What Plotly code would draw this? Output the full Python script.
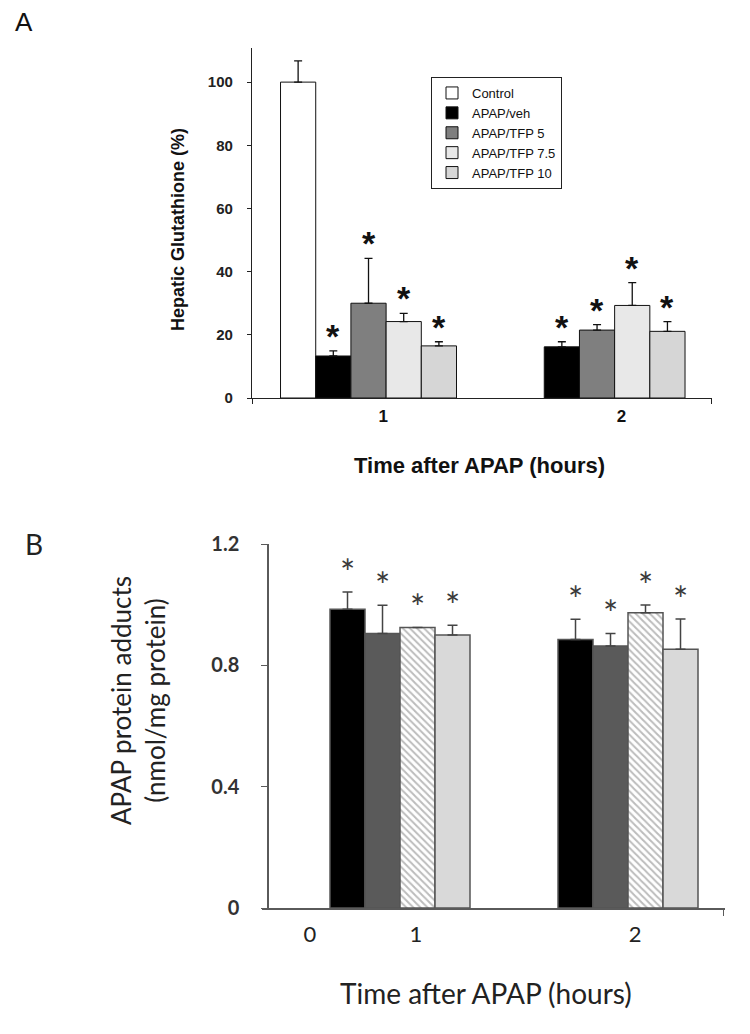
import plotly.graph_objects as go

# ---------------- data ----------------
time_points = [1, 2]

series_A = ["Control", "APAP/veh", "APAP/TFP 5", "APAP/TFP 7.5", "APAP/TFP 10"]
control_A = [100.0]
control_A_err = [6.7]
veh_A = [13.3, 16.2]
veh_A_err = [1.6, 1.6]
tfp5_A = [30.0, 21.5]
tfp5_A_err = [14.2, 1.7]
tfp75_A = [24.2, 29.3]
tfp75_A_err = [2.6, 7.2]
tfp10_A = [16.5, 21.1]
tfp10_A_err = [1.3, 3.1]

series_B = ["APAP/veh", "APAP/TFP 5", "APAP/TFP 7.5", "APAP/TFP 10"]
veh_B = [0.985, 0.885]
veh_B_err = [0.057, 0.067]
tfp5_B = [0.905, 0.864]
tfp5_B_err = [0.093, 0.041]
tfp75_B = [0.925, 0.973]
tfp75_B_err = [0.0, 0.026]
tfp10_B = [0.900, 0.853]
tfp10_B_err = [0.032, 0.100]

yticks_A = [0, 20, 40, 60, 80, 100]
yticks_B = [0, 0.4, 0.8, 1.2]
yticklabels_B = ["0", "0.4", "0.8", "1.2"]
xticklabels_A = ["1", "2"]
xticklabels_B = ["0", "1", "2"]

# ---------------- styling ----------------
W, H = 750, 1034
ARIAL = "Liberation Sans, Arial, sans-serif"
CAL = "Lato, Calibri, sans-serif"

wA = 0.154
wB = 0.1535
rangeA = [0.4902, 2.503]
rangeB = [0.3947, 2.4254]

fig = go.Figure()

# ---- panel A ----
A_sets = [
    ([1], control_A, control_A_err, "#ffffff", False),
    (time_points, veh_A, veh_A_err, "#000000", True),
    (time_points, tfp5_A, tfp5_A_err, "#7f7f7f", True),
    (time_points, tfp75_A, tfp75_A_err, "#e8e8e8", True),
    (time_points, tfp10_A, tfp10_A_err, "#d6d6d6", True),
]
annotations = []
for i, (xs, ys, es, col, star) in enumerate(A_sets):
    off = (i - 2.5) * wA
    fig.add_trace(go.Bar(
        x=xs, y=ys, name=series_A[i], width=wA, offset=off,
        xaxis="x", yaxis="y",
        marker=dict(color=col, line=dict(color="#111111", width=1)),
        error_y=dict(type="data", symmetric=False, array=es,
                     arrayminus=[0] * len(es), color="#111111",
                     thickness=1.3, width=4),
        showlegend=True,
    ))
    if star:
        for xv, yv, ev in zip(xs, ys, es):
            annotations.append(dict(
                x=xv + off + wA / 2, y=yv + ev, xref="x", yref="y",
                text="*", showarrow=False, xanchor="center", yanchor="bottom",
                yshift=-6,
                font=dict(family=ARIAL, size=34, color="#111111", weight="bold"),
            ))

# ---- panel B ----
B_sets = [
    (veh_B, veh_B_err, "#000000", None),
    (tfp5_B, tfp5_B_err, "#5a5a5a", None),
    (tfp75_B, tfp75_B_err, "#ffffff", "\\"),
    (tfp10_B, tfp10_B_err, "#d9d9d9", None),
]
for j, (ys, es, col, pat) in enumerate(B_sets):
    off = (j - 2) * wB
    marker = dict(color=col, line=dict(color="#555555", width=1.5))
    if pat:
        marker["pattern"] = dict(shape=pat, fgcolor="#7a7a7a", bgcolor="#ffffff",
                                 size=5, solidity=0.4)
    fig.add_trace(go.Bar(
        x=time_points, y=ys, name=series_B[j], width=wB, offset=off,
        xaxis="x2", yaxis="y2", marker=marker,
        error_y=dict(type="data", symmetric=False, array=es,
                     arrayminus=[0] * len(es), color="#444444",
                     thickness=1.5, width=5),
        showlegend=False,
    ))
    for xv, yv, ev in zip(time_points, ys, es):
        annotations.append(dict(
            x=xv + off + wB / 2, y=yv + ev, xref="x2", yref="y2",
            text="*", showarrow=False, xanchor="center", yanchor="bottom",
            yshift=-4,
            font=dict(family=CAL, size=36, color="#3a3a3a"),
        ))


def px(xp, yp):
    return xp / W, 1 - yp / H


def label(txt, xp, yp, fnt, angle=0):
    x, y = px(xp, yp)
    annotations.append(dict(x=x, y=y, xref="paper", yref="paper", text=txt,
                            showarrow=False, xanchor="center", yanchor="middle",
                            textangle=angle, font=fnt))


label("A", 24, 22, dict(family=ARIAL, size=26, color="#111111"))
label("B", 34, 544, dict(family=CAL, size=28, color="#222222"))
label("Time after APAP (hours)", 479, 466,
      dict(family=ARIAL, size=22, color="#111111", weight="bold"))
label("Hepatic Glutathione (%)", 178, 230,
      dict(family=ARIAL, size=18, color="#111111", weight="bold"), angle=-90)
label("APAP protein adducts<br>(nmol/mg protein)", 138, 701,
      dict(family=CAL, size=26, color="#222222"), angle=-90)
label("Time after APAP (hours)", 486, 993,
      dict(family=CAL, size=28, color="#222222"))

fig.update_layout(
    width=W, height=H,
    margin=dict(l=0, r=0, t=0, b=0, autoexpand=False),
    paper_bgcolor="white", plot_bgcolor="white",
    barmode="overlay",
    annotations=annotations,
    showlegend=True,
    legend=dict(x=431 / W, y=1 - 77 / H, xanchor="left", yanchor="top",
                bordercolor="#222222", borderwidth=1, bgcolor="white",
                font=dict(family=ARIAL, size=13, color="#111111"),
                itemwidth=30, tracegroupgap=0),
    xaxis=dict(domain=[252 / W, 712 / W], range=rangeA, anchor="y",
               automargin=False,
               showline=True, linecolor="#222222", linewidth=1.2,
               showgrid=False, zeroline=False,
               tickmode="array", tickvals=[1.064, 2.107], ticktext=xticklabels_A,
               ticks="", ticklabelstandoff=2,
               tickfont=dict(family=ARIAL, size=17, color="#111111", weight="bold"),
               minor=dict(tickmode="array", tickvals=[0.493, 2.5], ticks="outside",
                          ticklen=5, tickcolor="#222222", showgrid=False)),
    yaxis=dict(domain=[1 - 398 / H, 1 - 48 / H], range=[0, 110.8], anchor="x",
               automargin=False,
               showline=True, linecolor="#222222", linewidth=1.2,
               showgrid=False, zeroline=False,
               tickmode="array", tickvals=yticks_A,
               ticks="outside", ticklen=4, tickcolor="#222222",
               ticklabelstandoff=11,
               tickfont=dict(family=ARIAL, size=15, color="#222222", weight="bold")),
    xaxis2=dict(domain=[262 / W, 725 / W], range=rangeB, anchor="y2",
                automargin=False,
                showline=True, linecolor="#5a5a5a", linewidth=1.5,
                showgrid=False, zeroline=False,
                tickmode="array", tickvals=[0.605, 1.07, 2.031], ticktext=xticklabels_B,
                ticks="", ticklabelstandoff=6,
                tickfont=dict(family=CAL, size=22, color="#222222"),
                minor=dict(tickmode="array", tickvals=[2.42], ticks="outside",
                           ticklen=6, tickcolor="#5a5a5a", showgrid=False)),
    yaxis2=dict(domain=[1 - 908 / H, 1 - 544 / H], range=[0, 1.2],
                anchor="free", position=268 / W, automargin=False,
                showline=True, linecolor="#5a5a5a", linewidth=1.5,
                showgrid=False, zeroline=False,
                tickmode="array", tickvals=yticks_B, ticktext=yticklabels_B,
                ticks="outside", ticklen=6, tickcolor="#5a5a5a",
                ticklabelstandoff=18,
                tickfont=dict(family=CAL, size=20, color="#333333", weight="bold")),
)

fig.write_html("out.html", config={"displayModeBar": False},
               post_script="document.body.style.margin='0px';")
